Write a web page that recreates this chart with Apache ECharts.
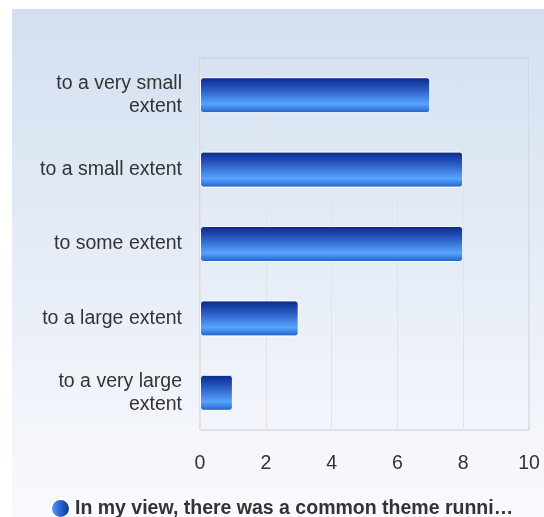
<!DOCTYPE html>
<html><head><meta charset="utf-8">
<script src="https://cdn.jsdelivr.net/npm/echarts@6/dist/echarts.min.js"></script>
<style>html,body{margin:0;padding:0;background:#fff}#c{width:544px;height:517px}</style>
</head><body><div id="c"></div>
<script>
const categories = ["to a very small\nextent", "to a small extent", "to some extent", "to a large extent", "to a very large\nextent"];
const values = [7, 8, 8, 3, 1];
const seriesName = "In my view, there was a common theme runni…";
const xTicks = { min: 0, max: 10, interval: 2 };

const chart = echarts.init(document.getElementById('c'));
const barGrad = new echarts.graphic.LinearGradient(0, 0, 0, 1, [
  { offset: 0, color: '#08288a' },
  { offset: 0.35, color: '#2a5cc4' },
  { offset: 0.75, color: '#58a4ff' },
  { offset: 1, color: '#1f5cc8' }
]);
const legendGrad = new echarts.graphic.LinearGradient(0, 0, 1, 0, [
  { offset: 0, color: '#5aa6ff' },
  { offset: 0.5, color: '#2a62d0' },
  { offset: 1, color: '#0a2a8a' }
]);
const font = 'Liberation Sans, Arial, sans-serif';
chart.setOption({
  animation: false,
  graphic: [{
    type: 'rect', z: -10, silent: true,
    shape: { x: 12, y: 9, width: 532, height: 508 },
    style: { fill: new echarts.graphic.LinearGradient(0, 0, 0, 1, [
      { offset: 0, color: '#d3dff0' },
      { offset: 1, color: '#f9fafd' }
    ]) }
  }],
  grid: { left: 200, right: 15, top: 58, bottom: 87, show: true, borderColor: '#cccccc', borderWidth: 1, backgroundColor: 'transparent' },
  xAxis: {
    type: 'value', min: xTicks.min, max: xTicks.max, interval: xTicks.interval,
    axisLine: { show: false }, axisTick: { show: false },
    splitLine: { lineStyle: { color: '#e3e3e3' } },
    axisLabel: { color: '#333', fontSize: 19.5, margin: 24, fontFamily: font }
  },
  yAxis: {
    type: 'category', inverse: true, data: categories,
    axisLine: { show: false }, axisTick: { show: false },
    axisLabel: { color: '#333', fontSize: 19.5, lineHeight: 23, margin: 18, padding: [4, 0, 0, 0], fontFamily: font }
  },
  legend: {
    top: 493, left: 45,
    itemWidth: 19, itemHeight: 19, itemGap: 8,
    icon: 'circle',
    itemStyle: { color: legendGrad },
    textStyle: { color: '#333', fontSize: 19.5, fontWeight: 'bold', fontFamily: font },
    data: [seriesName]
  },
  series: [{
    name: seriesName, type: 'bar', data: values, barWidth: 36,
    itemStyle: { color: barGrad, borderColor: '#ffffff', borderWidth: 1, borderRadius: 3 }
  }]
});
</script></body></html>
